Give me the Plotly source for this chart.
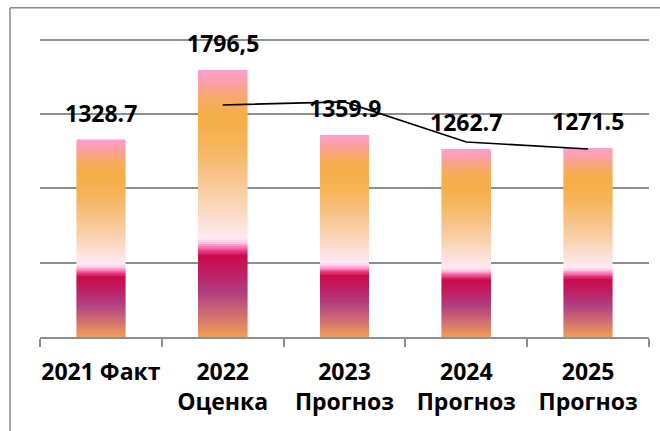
import plotly.graph_objects as go

categories = ["2021 Факт", "2022<br>Оценка", "2023<br>Прогноз", "2024<br>Прогноз", "2025<br>Прогноз"]
bar_values = [1328.7, 1796.5, 1359.9, 1262.7, 1271.5]
bar_labels = ["1328.7", "1796,5", "1359.9", "1262.7", "1271.5"]
line_values = [None, 1562, 1583, 1313, 1266]
y_ticks = [0, 500, 1000, 1500, 2000]

# gradient stops, fraction measured from the top of each bar
stops = [
    (0.00, (255, 159, 208)),
    (0.05, (250, 160, 160)),
    (0.12, (246, 172, 90)),
    (0.18, (245, 174, 70)),
    (0.28, (246, 180, 90)),
    (0.40, (248, 196, 140)),
    (0.50, (250, 212, 180)),
    (0.58, (253, 226, 220)),
    (0.63, (255, 232, 244)),
    (0.645, (255, 200, 228)),
    (0.66, (255, 130, 190)),
    (0.675, (235, 60, 130)),
    (0.695, (200, 12, 74)),
    (0.75, (192, 28, 96)),
    (0.83, (176, 62, 128)),
    (0.92, (210, 112, 112)),
    (1.00, (240, 160, 84)),
]


def color_at(t):
    for (t0, c0), (t1, c1) in zip(stops[:-1], stops[1:]):
        if t0 <= t <= t1:
            f = 0 if t1 == t0 else (t - t0) / (t1 - t0)
            c = [round(a + (b - a) * f) for a, b in zip(c0, c1)]
            return "rgb(%d,%d,%d)" % tuple(c)
    return "rgb(%d,%d,%d)" % stops[-1][1]


N = 120
fig = go.Figure()
for k in range(N):
    # k=0 is the bottom segment
    t_from_top = 1 - (k + 0.5) / N
    col = color_at(t_from_top)
    fig.add_trace(go.Bar(
        x=categories,
        y=[v / N for v in bar_values],
        marker=dict(color=col, line=dict(color=col, width=0.6)),
        showlegend=False,
        hoverinfo="skip",
    ))

fig.add_trace(go.Scatter(
    x=categories,
    y=line_values,
    mode="lines",
    line=dict(color="black", width=1.7),
    showlegend=False,
    connectgaps=False,
    hoverinfo="skip",
))

for c, v, lab in zip(categories, bar_values, bar_labels):
    fig.add_annotation(
        x=c, y=v, text=lab, showarrow=False,
        yanchor="middle", yshift=27,
        font=dict(family="Open Sans", size=23, color="black", weight="bold"),
    )

grey = "#8e8e8e"
fig.update_layout(
    width=660, height=431,
    margin=dict(l=40, r=11, t=37, b=94),
    paper_bgcolor="white", plot_bgcolor="white",
    barmode="stack", bargap=0.6,
    xaxis=dict(
        automargin=False, tickangle=0,
        showgrid=False, showline=True, linecolor=grey, linewidth=1.5,
        ticks="outside", tickson="boundaries", ticklen=8, tickcolor=grey, tickwidth=1.5,
        tickfont=dict(family="Open Sans", size=23, color="black", weight="bold"),
        ticklabelstandoff=14,
    ),
    yaxis=dict(
        automargin=False,
        range=[0, 2020], tickvals=y_ticks, showticklabels=False,
        showgrid=True, gridcolor=grey, gridwidth=1.5, zeroline=False, showline=False,
    ),
    shapes=[
        dict(type="line", xref="paper", yref="paper", x0=-0.0493, x1=-0.0493, y0=-0.5, y1=1.0976,
             line=dict(color="#8a8a8a", width=1.5)),
        dict(type="line", xref="paper", yref="paper", x0=-0.0493, x1=1.2, y0=1.0976, y1=1.0976,
             line=dict(color="#8a8a8a", width=1.5)),
    ],
)

fig.write_html("out.html", config={"displayModeBar": False},
               post_script="document.body.style.margin='0';")
